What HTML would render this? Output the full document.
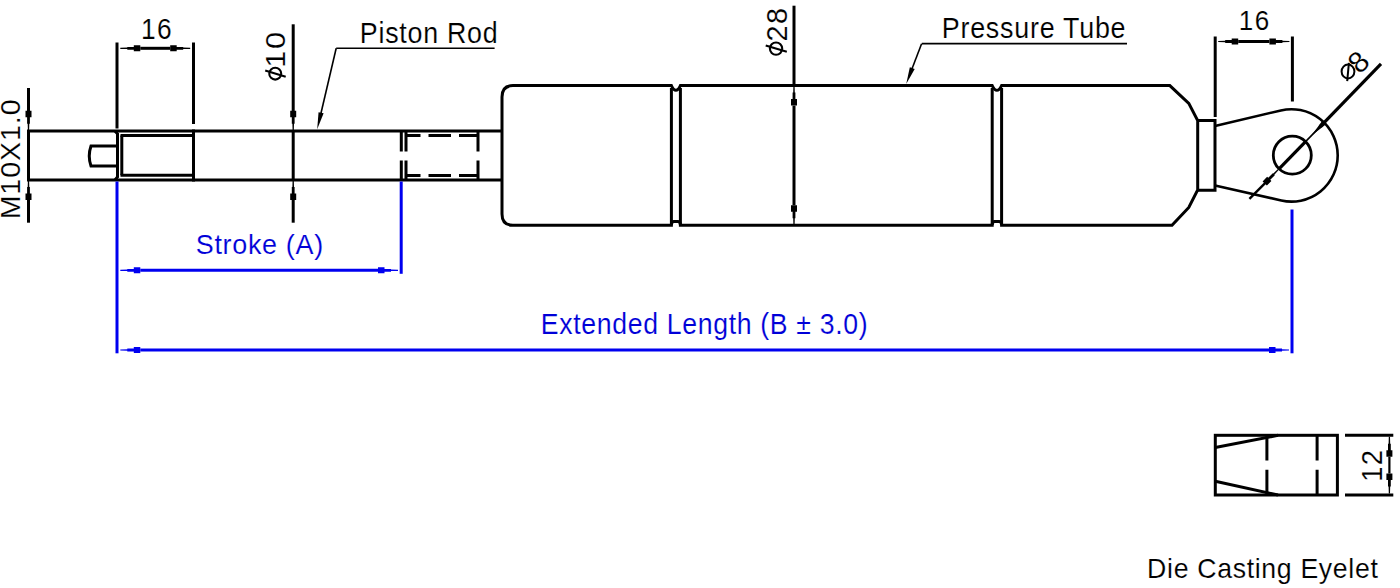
<!DOCTYPE html>
<html><head><meta charset="utf-8"><style>
html,body{margin:0;padding:0;background:#fff;}
body{width:1400px;height:588px;overflow:hidden;}
svg{display:block;}
text{font-family:"Liberation Sans",sans-serif;stroke:#fff;stroke-width:0.15px;paint-order:fill stroke;}
</style></head><body>
<svg width="1400" height="588" viewBox="0 0 1400 588">
<line x1="28.50" y1="88.00" x2="28.50" y2="111.00" stroke="#000" stroke-width="3" stroke-linecap="butt"/>
<polygon points="27.90,130.80 27.70,123.80 27.10,123.80 27.10,117.30 25.50,117.30 25.50,110.80 31.50,110.80 31.50,117.30 29.90,117.30 29.90,123.80 29.30,123.80 29.10,130.80" fill="#000"/>
<line x1="28.50" y1="130.80" x2="28.50" y2="180.00" stroke="#000" stroke-width="3" stroke-linecap="butt"/>
<polygon points="29.10,180.00 29.30,187.00 29.90,187.00 29.90,193.50 31.50,193.50 31.50,200.00 25.50,200.00 25.50,193.50 27.10,193.50 27.10,187.00 27.70,187.00 27.90,180.00" fill="#000"/>
<line x1="28.50" y1="199.00" x2="28.50" y2="222.70" stroke="#000" stroke-width="3" stroke-linecap="butt"/>
<g transform="translate(20.20,217.00) rotate(-90)">
<text transform="translate(-2.34,0.00) scale(1.0475,1)" font-size="27.22" letter-spacing="0.927" fill="#000">M10X1.0</text>
</g>
<line x1="27.00" y1="130.90" x2="502.00" y2="130.90" stroke="#000" stroke-width="3" stroke-linecap="butt"/>
<line x1="27.00" y1="180.00" x2="502.00" y2="180.00" stroke="#000" stroke-width="3" stroke-linecap="butt"/>
<path d="M117,146 L91,146 Q87.5,156 91,166 L117,166" fill="none" stroke="#000" stroke-width="3"/>
<path d="M115,130.9 L117.5,133.8 V177 L115,180" fill="none" stroke="#000" stroke-width="3"/>
<line x1="121.80" y1="135.50" x2="121.80" y2="175.20" stroke="#000" stroke-width="3" stroke-linecap="butt"/>
<line x1="120.50" y1="135.50" x2="193.50" y2="135.50" stroke="#000" stroke-width="3" stroke-linecap="butt"/>
<line x1="120.50" y1="175.20" x2="193.50" y2="175.20" stroke="#000" stroke-width="3" stroke-linecap="butt"/>
<line x1="193.50" y1="129.50" x2="193.50" y2="181.50" stroke="#000" stroke-width="3" stroke-linecap="butt"/>
<line x1="117.00" y1="42.50" x2="117.00" y2="128.50" stroke="#000" stroke-width="3" stroke-linecap="butt"/>
<line x1="193.50" y1="42.50" x2="193.50" y2="124.00" stroke="#000" stroke-width="3" stroke-linecap="butt"/>
<polygon points="120.30,47.70 127.30,47.50 127.30,46.90 133.80,46.90 133.80,45.30 140.30,45.30 140.30,51.30 133.80,51.30 133.80,49.70 127.30,49.70 127.30,49.10 120.30,48.90" fill="#000"/>
<polygon points="190.20,48.90 183.20,49.10 183.20,49.70 176.70,49.70 176.70,51.30 170.20,51.30 170.20,45.30 176.70,45.30 176.70,46.90 183.20,46.90 183.20,47.50 190.20,47.70" fill="#000"/>
<line x1="140.30" y1="48.30" x2="170.20" y2="48.30" stroke="#000" stroke-width="3" stroke-linecap="butt"/>
<text transform="translate(140.99,39.20) scale(0.8922,1)" font-size="29.51" letter-spacing="1.541" fill="#000">16</text>
<line x1="293.20" y1="24.30" x2="293.20" y2="111.00" stroke="#000" stroke-width="3" stroke-linecap="butt"/>
<polygon points="292.60,130.80 292.40,123.80 291.80,123.80 291.80,117.30 290.20,117.30 290.20,110.80 296.20,110.80 296.20,117.30 294.60,117.30 294.60,123.80 294.00,123.80 293.80,130.80" fill="#000"/>
<line x1="293.20" y1="130.80" x2="293.20" y2="180.00" stroke="#000" stroke-width="3" stroke-linecap="butt"/>
<polygon points="293.80,180.00 294.00,187.00 294.60,187.00 294.60,193.50 296.20,193.50 296.20,200.00 290.20,200.00 290.20,193.50 291.80,193.50 291.80,187.00 292.40,187.00 292.60,180.00" fill="#000"/>
<line x1="293.20" y1="199.00" x2="293.20" y2="222.70" stroke="#000" stroke-width="3" stroke-linecap="butt"/>
<g transform="translate(285.40,81.80) rotate(-90)">
<circle cx="8.16" cy="-10.15" r="5.96" fill="none" stroke="#000" stroke-width="2.1"/>
<line x1="4.96" y1="0.30" x2="11.36" y2="-20.20" stroke="#000" stroke-width="2.1"/>
<text transform="translate(14.16,0.00) scale(1.0795,1)" font-size="28.51" letter-spacing="1.496" fill="#000">10</text>
</g>
<line x1="336.20" y1="48.30" x2="494.60" y2="48.30" stroke="#000" stroke-width="1.6" stroke-linecap="butt"/>
<polygon points="317.20,129.30 323.61,113.34 318.55,112.16" fill="#000"/>
<line x1="320.85" y1="113.72" x2="336.20" y2="48.30" stroke="#000" stroke-width="1.6" stroke-linecap="butt"/>
<text transform="translate(359.80,43.10) scale(0.8874,1)" font-size="30.23" letter-spacing="0.839" fill="#000">Piston Rod</text>
<g stroke="#000" stroke-width="3" fill="none">
<path d="M401.3,131 V151.5 M401.3,160.5 V179.5 M406,131 V151.5 M406,160.5 V179.5 M478,131 V151.5 M478,160.5 V179.5"/>
<path d="M406,135.5 H420.5 M428.5,135.5 H451 M459,135.5 H478 M406,175.4 H420.5 M428.5,175.4 H451 M459,175.4 H478"/>
</g>
<path d="M513,85.6 H671.4 Q675.9,95 680.4,85.6 H992.2 Q996.9000000000001,95 1001.6,85.6 H1169.8 L1188.8,103.3 L1197.7,120.6 V189.8 L1188.8,207.5 L1172,225.3 H1001.6 Q1001.6,221.6 999.1,221.6 H994.7 Q992.2,221.6 992.2,225.3 H680.4 Q680.4,221.6 677.9,221.6 H673.9 Q671.4,221.6 671.4,225.3 H513 Q502,225.3 502,214 V97 Q502,85.6 513,85.6 Z" fill="none" stroke="#000" stroke-width="3" stroke-linejoin="miter"/>
<line x1="671.40" y1="88.00" x2="671.40" y2="225.00" stroke="#000" stroke-width="3" stroke-linecap="butt"/>
<line x1="680.40" y1="88.00" x2="680.40" y2="225.00" stroke="#000" stroke-width="3" stroke-linecap="butt"/>
<line x1="992.20" y1="88.00" x2="992.20" y2="225.00" stroke="#000" stroke-width="3" stroke-linecap="butt"/>
<line x1="1001.60" y1="88.00" x2="1001.60" y2="225.00" stroke="#000" stroke-width="3" stroke-linecap="butt"/>
<line x1="794.00" y1="5.70" x2="794.00" y2="87.00" stroke="#000" stroke-width="3" stroke-linecap="butt"/>
<polygon points="794.60,85.60 794.80,92.60 795.40,92.60 795.40,99.10 797.00,99.10 797.00,105.60 791.00,105.60 791.00,99.10 792.60,99.10 792.60,92.60 793.20,92.60 793.40,85.60" fill="#000"/>
<polygon points="793.40,225.30 793.20,218.30 792.60,218.30 792.60,211.80 791.00,211.80 791.00,205.30 797.00,205.30 797.00,211.80 795.40,211.80 795.40,218.30 794.80,218.30 794.60,225.30" fill="#000"/>
<line x1="794.00" y1="105.60" x2="794.00" y2="205.30" stroke="#000" stroke-width="3" stroke-linecap="butt"/>
<g transform="translate(786.50,57.00) rotate(-90)">
<circle cx="8.38" cy="-10.46" r="6.17" fill="none" stroke="#000" stroke-width="2.1"/>
<line x1="5.17" y1="0.30" x2="11.57" y2="-20.80" stroke="#000" stroke-width="2.1"/>
<text transform="translate(15.56,0.00) scale(0.9781,1)" font-size="29.37" letter-spacing="1.574" fill="#000">28</text>
</g>
<line x1="921.80" y1="43.60" x2="1127.00" y2="43.60" stroke="#000" stroke-width="1.6" stroke-linecap="butt"/>
<polygon points="906.20,84.00 914.71,69.06 909.85,67.19" fill="#000"/>
<line x1="911.92" y1="69.06" x2="921.60" y2="43.80" stroke="#000" stroke-width="1.6" stroke-linecap="butt"/>
<text transform="translate(941.79,38.00) scale(0.9155,1)" font-size="29.36" letter-spacing="0.828" fill="#000">Pressure Tube</text>
<path d="M1197.7,120.6 H1215 V190.2 H1197.7" fill="none" stroke="#000" stroke-width="3"/>
<path d="M1215,126 L1280.88,110.44 A46.2,46.2 0 1 1 1281.33,200.47 L1215,185.5" fill="none" stroke="#000" stroke-width="2.6"/>
<circle cx="1292.3" cy="155.2" r="19" fill="none" stroke="#000" stroke-width="2.8"/>
<line x1="1305.56" y1="141.59" x2="1324.55" y2="122.12" stroke="#000" stroke-width="1.6" stroke-linecap="butt"/>
<line x1="1279.04" y1="168.81" x2="1305.56" y2="141.59" stroke="#000" stroke-width="3.2" stroke-linecap="butt"/>
<line x1="1323.85" y1="122.83" x2="1381.00" y2="63.80" stroke="#000" stroke-width="3.2" stroke-linecap="butt"/>
<polygon points="1279.12,169.58 1274.38,174.73 1274.80,175.15 1270.27,179.81 1271.41,180.92 1266.88,185.58 1262.58,181.39 1267.12,176.74 1268.26,177.85 1272.80,173.20 1273.23,173.62 1278.26,168.74" fill="#000"/>
<line x1="1265.08" y1="183.13" x2="1249.40" y2="198.80" stroke="#000" stroke-width="2.4" stroke-linecap="butt"/>
<polygon points="1322.69,120.30 1326.41,123.93 1311.29,135.72" fill="#000"/>
<line x1="1320.36" y1="126.41" x2="1324.55" y2="122.12" stroke="#000" stroke-width="3.5" stroke-linecap="butt"/>
<g transform="translate(1361.5,73) rotate(-44)">
<text transform="translate(-2.80,0.00) scale(1.0159,1)" font-size="29.37" letter-spacing="0.000" fill="#000">8</text>
</g>
<ellipse cx="1348" cy="71.5" rx="6.4" ry="6.9" fill="none" stroke="#000" stroke-width="2"/>
<line x1="1348.9" y1="62.8" x2="1347.2" y2="81.2" stroke="#000" stroke-width="2"/>
<line x1="1215.20" y1="36.50" x2="1215.20" y2="117.00" stroke="#000" stroke-width="3" stroke-linecap="butt"/>
<line x1="1292.40" y1="36.50" x2="1292.40" y2="101.50" stroke="#000" stroke-width="3" stroke-linecap="butt"/>
<polygon points="1218.20,40.90 1225.20,40.70 1225.20,40.10 1231.70,40.10 1231.70,38.50 1238.20,38.50 1238.20,44.50 1231.70,44.50 1231.70,42.90 1225.20,42.90 1225.20,42.30 1218.20,42.10" fill="#000"/>
<polygon points="1289.40,42.10 1282.40,42.30 1282.40,42.90 1275.90,42.90 1275.90,44.50 1269.40,44.50 1269.40,38.50 1275.90,38.50 1275.90,40.10 1282.40,40.10 1282.40,40.70 1289.40,40.90" fill="#000"/>
<line x1="1238.20" y1="41.50" x2="1269.40" y2="41.50" stroke="#000" stroke-width="3" stroke-linecap="butt"/>
<text transform="translate(1238.82,29.60) scale(0.9419,1)" font-size="27.65" letter-spacing="1.444" fill="#000">16</text>
<line x1="117.00" y1="181.50" x2="117.00" y2="353.30" stroke="#0000f0" stroke-width="3" stroke-linecap="butt"/>
<line x1="401.20" y1="181.50" x2="401.20" y2="273.80" stroke="#0000f0" stroke-width="3" stroke-linecap="butt"/>
<line x1="1292.00" y1="209.50" x2="1292.00" y2="353.30" stroke="#0000f0" stroke-width="3" stroke-linecap="butt"/>
<polygon points="120.30,269.70 127.30,269.50 127.30,268.90 133.80,268.90 133.80,267.30 140.30,267.30 140.30,273.30 133.80,273.30 133.80,271.70 127.30,271.70 127.30,271.10 120.30,270.90" fill="#0000f0"/>
<polygon points="398.00,270.90 391.00,271.10 391.00,271.70 384.50,271.70 384.50,273.30 378.00,273.30 378.00,267.30 384.50,267.30 384.50,268.90 391.00,268.90 391.00,269.50 398.00,269.70" fill="#0000f0"/>
<line x1="140.30" y1="270.30" x2="378.00" y2="270.30" stroke="#0000f0" stroke-width="3" stroke-linecap="butt"/>
<polygon points="120.30,349.40 127.30,349.20 127.30,348.60 133.80,348.60 133.80,347.00 140.30,347.00 140.30,353.00 133.80,353.00 133.80,351.40 127.30,351.40 127.30,350.80 120.30,350.60" fill="#0000f0"/>
<polygon points="1289.00,350.60 1282.00,350.80 1282.00,351.40 1275.50,351.40 1275.50,353.00 1269.00,353.00 1269.00,347.00 1275.50,347.00 1275.50,348.60 1282.00,348.60 1282.00,349.20 1289.00,349.40" fill="#0000f0"/>
<line x1="140.30" y1="350.00" x2="1269.00" y2="350.00" stroke="#0000f0" stroke-width="3" stroke-linecap="butt"/>
<text transform="translate(195.78,254.40) scale(0.9799,1)" font-size="27.47" letter-spacing="0.706" fill="#0000d8">Stroke (A)</text>
<text transform="translate(540.82,334.40) scale(0.8937,1)" font-size="29.80" letter-spacing="0.753" fill="#0000d8">Extended Length (B ± 3.0)</text>
<rect x="1215.3" y="435.3" width="122.1" height="59.7" fill="none" stroke="#000" stroke-width="3"/>
<path d="M1266.9,435.3 V460.6 M1266.9,469.7 V495 M1317.1,435.3 V460.5 M1317.1,469.7 V495" stroke="#000" stroke-width="3" fill="none"/>
<line x1="1215.30" y1="447.50" x2="1278.00" y2="435.30" stroke="#000" stroke-width="3" stroke-linecap="butt"/>
<line x1="1215.30" y1="481.20" x2="1278.00" y2="495.00" stroke="#000" stroke-width="3" stroke-linecap="butt"/>
<line x1="1345.00" y1="435.30" x2="1393.30" y2="435.30" stroke="#000" stroke-width="3" stroke-linecap="butt"/>
<line x1="1345.00" y1="495.00" x2="1393.30" y2="495.00" stroke="#000" stroke-width="3" stroke-linecap="butt"/>
<polygon points="1390.00,436.80 1390.20,443.80 1390.80,443.80 1390.80,450.30 1392.40,450.30 1392.40,456.80 1386.40,456.80 1386.40,450.30 1388.00,450.30 1388.00,443.80 1388.60,443.80 1388.80,436.80" fill="#000"/>
<polygon points="1388.80,493.50 1388.60,486.50 1388.00,486.50 1388.00,480.00 1386.40,480.00 1386.40,473.50 1392.40,473.50 1392.40,480.00 1390.80,480.00 1390.80,486.50 1390.20,486.50 1390.00,493.50" fill="#000"/>
<line x1="1389.40" y1="456.80" x2="1389.40" y2="473.50" stroke="#000" stroke-width="2.2" stroke-linecap="butt"/>
<g transform="translate(1381.80,479.70) rotate(-90)">
<text transform="translate(-2.08,0.00) scale(0.9152,1)" font-size="29.80" letter-spacing="1.546" fill="#000">12</text>
</g>
<text transform="translate(1147.11,577.60) scale(0.9510,1)" font-size="28.05" letter-spacing="0.707" fill="#000">Die Casting Eyelet</text>
</svg>
</body></html>
